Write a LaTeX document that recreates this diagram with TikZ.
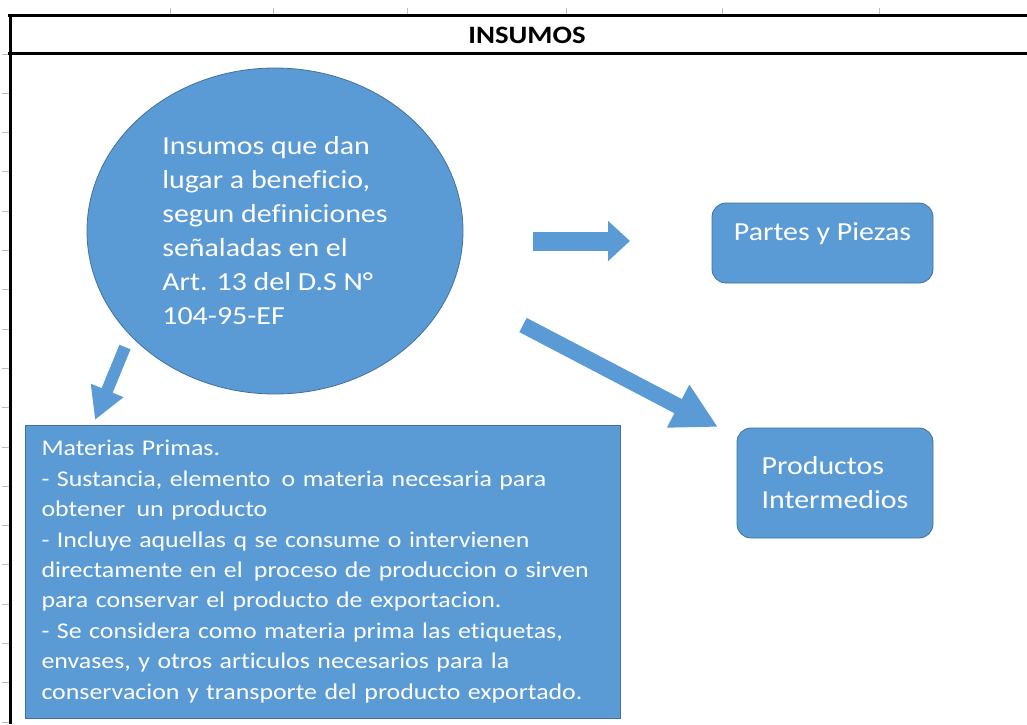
\documentclass[tikz,border=0pt]{standalone}
\usepackage{fontspec}
\setmainfont{Carlito}[FakeStretch=1.15,Ligatures=NoCommon]
\usetikzlibrary{shapes.geometric,arrows.meta,positioning}
\definecolor{officeblue}{RGB}{91,155,213}
\definecolor{officeedge}{RGB}{65,113,156}
\hyphenpenalty=10000
\begin{document}
\begin{tikzpicture}[x=1pt,y=-1pt,
			blue node/.style = {draw=officeedge,fill=officeblue,text=white,line width=0.8pt},
			round node/.style = {blue node,rectangle,rounded corners=14pt,font=\fontsize{26}{34}\selectfont},
			fat arrow/.style = {draw=officeblue,line width=#1}]
			
			\useasboundingbox (0,0) rectangle (1027,724);
			
			% sheet grid
			\foreach \x in {170,273,407,566,722,879} \draw[gray!50,line width=1pt] (\x,8) -- (\x,15);
			\foreach \k in {0,...,17} \draw[gray!50,line width=1pt] (2,54+39.3*\k) -- (9,54+39.3*\k);
			\draw[line width=3pt] (8,15) -- (1027,15);
			\draw[line width=3pt] (8,53) -- (1027,53);
			\draw[line width=3pt] (10,13.5) -- (10,724);
			\node[font=\fontsize{25}{28}\selectfont\bfseries] (0) at (527,35) {INSUMOS};
			
			\node[blue node,ellipse,inner sep=0pt,minimum width=376pt,minimum height=326pt,align=left,
				font=\fontsize{26}{34}\selectfont] (1) at (275,231)
			{Insumos que dan\\ lugar a beneficio,\\ segun definiciones\\ señaladas en el\\ Art. 13 del D.S N°\\ 104-95-EF};
			\node[round node,minimum width=221pt,minimum height=80pt,text height=18pt,text depth=23pt] (2) at (822.5,243)
			{Partes y Piezas};
			\node[round node,minimum width=196pt,minimum height=110pt,align=left] (3) at (835,483)
			{Productos\\ Intermedios};
			\node[blue node,rectangle,minimum width=595pt,minimum height=293pt,text width=562pt,align=left,
				font=\fontsize{22.5}{30.4}\selectfont] (4) at (322.5,571.5)
			{Materias Primas.\\
			- Sustancia, elemento\, o materia necesaria para\\
			obtener\, un producto\\
			- Incluye aquellas q se consume o intervienen\\
			directamente en el\, proceso de produccion o sirven\\
			para conservar el producto de exportacion.\\
			- Se considera como materia prima las etiquetas,\\
			envases, y otros articulos necesarios para la\\
			conservacion y transporte del producto exportado.};
			
			\coordinate (a1) at (533,241);
			\coordinate (a2) at (630,241);
			\coordinate (b1) at (523,325);
			\coordinate (b2) at (718,427);
			\coordinate (c1) at (125,347);
			\coordinate (c2) at (95,420);
			
			\draw[fat arrow=19pt,-{Triangle[length=22pt,width=39pt,fill=officeblue]}] (a1) -- (a2);
			\draw[fat arrow=16pt,-{Triangle[length=45pt,width=45pt,fill=officeblue]}] (b1) -- (b2);
			\draw[fat arrow=12pt,-{Triangle[length=32pt,width=33pt,fill=officeblue]}] (c1) -- (c2);
			
			\end{tikzpicture}
\end{document}
